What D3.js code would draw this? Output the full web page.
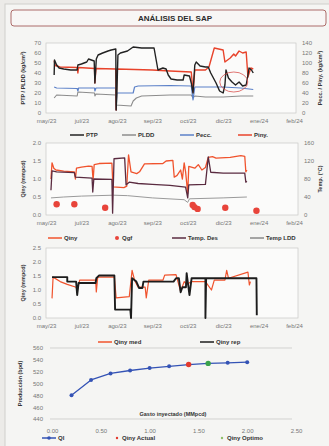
<!DOCTYPE html>
<html>
<head>
<meta charset="utf-8">
<script src="https://cdn.jsdelivr.net/npm/d3@7"></script>
<style>
  body { margin: 0; background: #ecebe8; }
  svg { display: block; font-family: "Liberation Sans", Arial, sans-serif; }
  .tick text { fill: #777; font-size: 6px; }
  .axis-title { fill: #333; font-size: 5.5px; font-weight: bold; }
  .legend text { fill: #333; font-size: 6px; font-weight: bold; }
</style>
</head>
<body>
<svg id="chart" width="329" height="446"></svg>
<script>
// x tick labels shared by the three time panels (index units 0..7)
const dateTicks = ['may/23', 'jul/23', 'ago/23', 'sep/23', 'oct/23', 'dic/23', 'ene/24', 'feb/24'];
const p1LeftTicks = [0, 10, 20, 30, 40, 50, 60, 70];
const p1RightTicks = [0, 20, 40, 60, 80, 100, 120, 140];
const p2LeftTicks = [0, 0.5, 1, 1.5, 2];
const p2RightTicks = [0, 40, 80, 120, 160];
const p3LeftTicks = [0, 0.5, 1, 1.5, 2, 2.5];
const p4YTicks = [440, 460, 480, 500, 520, 540, 560];
const p4XTicks = [0, 0.5, 1, 1.5, 2, 2.5];

// panel 1 : pressures
const ptp = [[0.23,38],[0.24,53],[0.3,48],[0.37,45],[0.5,44],[0.7,43],[0.88,43],[0.9,48],[1.0,49],[1.15,51],[1.2,54],[1.36,52],[1.38,30],[1.42,54],[1.47,58],[1.6,60],[1.75,62],[1.84,63],[1.97,64],[1.98,3],[2.0,20],[2.03,58],[2.1,60],[2.3,62],[2.46,66],[2.7,65],[3.05,65],[3.1,55],[3.16,43],[3.3,45],[3.39,44],[3.45,38],[3.53,34],[3.7,33],[3.87,33],[3.9,38],[4.05,37],[4.1,30],[4.15,20],[4.2,48],[4.24,51],[4.35,47],[4.5,46],[4.58,46],[4.65,40],[4.8,30],[4.9,22],[5.0,20],[5.05,28],[5.08,43],[5.15,35],[5.25,31],[5.35,28],[5.45,31],[5.55,27],[5.65,28],[5.7,38],[5.73,45],[5.8,43],[5.85,40]];
const pldd = [[0.23,15],[0.3,18],[0.88,17],[0.9,21],[1.37,20],[1.38,17],[1.41,19],[1.97,18],[1.98,8],[2.4,7],[2.46,12],[2.55,15],[2.7,17],[3.5,18],[4.1,18],[4.15,15],[4.2,17],[4.5,16],[5.0,16],[5.5,17],[5.85,17]];
const pecc = [[0.23,52],[0.3,50],[0.88,49],[0.9,44],[0.92,50],[1.37,50],[1.38,44],[1.41,50],[1.97,50],[1.98,6],[2.0,40],[2.46,40],[2.5,52],[2.6,54],[3.5,55],[4.1,54],[4.15,26],[4.2,52],[5.0,52],[5.5,50],[5.85,47]];
const piny = [[0.23,105],[0.26,95],[0.4,92],[0.88,91],[0.9,80],[0.92,91],[1.37,89],[1.38,60],[1.41,89],[1.97,88],[1.98,6],[2.0,88],[2.5,87],[3.0,86],[3.5,84],[4.1,82],[4.15,42],[4.2,86],[4.5,86],[4.6,92],[4.75,130],[5.0,126],[5.05,102],[5.2,110],[5.3,118],[5.35,114],[5.45,124],[5.55,120],[5.65,122],[5.7,72],[5.78,90],[5.85,88]];

// panel 2 : injection rate & temperatures
const qiny = [[0.14,1.0],[0.17,1.45],[0.22,1.3],[0.28,1.25],[0.5,1.22],[0.8,1.2],[0.83,1.0],[0.86,1.3],[1.0,1.33],[1.2,1.36],[1.3,1.35],[1.33,0.97],[1.36,1.4],[1.5,1.43],[1.86,1.44],[1.89,0.78],[2.2,0.76],[2.28,0.8],[2.33,1.67],[2.4,1.2],[2.56,1.15],[2.64,1.2],[2.78,1.42],[3.3,1.43],[3.39,1.5],[3.58,1.52],[3.62,1.05],[3.7,1.1],[3.8,1.25],[3.85,1.0],[3.9,1.45],[3.94,1.2],[4.0,0.6],[4.03,1.35],[4.2,1.3],[4.3,1.4],[4.4,1.25],[4.5,1.32],[4.58,1.6],[4.7,1.62],[4.8,1.58],[5.2,1.6],[5.5,1.65],[5.61,1.63],[5.64,1.2],[5.67,1.25]];
const qgf = [[0.3,0.3],[0.8,0.3],[1.67,0.2],[4.14,0.28],[4.19,0.22],[4.28,0.17],[5.06,0.2],[5.94,0.12]];
const tempDes = [[0.14,55],[0.17,98],[0.3,96],[0.8,94],[0.83,84],[1.3,82],[1.32,51],[1.35,80],[1.86,79],[1.88,4],[1.92,125],[2.22,127],[2.26,67],[2.35,73],[2.6,70],[3.0,68],[3.5,66],[3.94,62],[4.0,38],[4.03,67],[4.5,68],[4.58,129],[4.65,95],[5.0,93],[5.61,93],[5.64,73],[5.67,75]];
const tempLdd = [[0.14,38],[0.5,40],[1.0,42],[1.9,44],[2.3,43],[3.0,38],[3.9,34],[4.0,28],[4.05,36],[5.0,38],[5.67,40]];

// panel 3 : measured vs reported injection
const qinyMed = [[0.17,0.7],[0.2,1.46],[0.4,1.3],[0.6,1.2],[0.85,1.1],[0.88,0.95],[0.95,1.35],[1.4,1.35],[1.42,0.93],[1.46,1.46],[1.93,1.46],[1.98,0.72],[2.35,0.76],[2.43,1.7],[2.5,1.35],[2.6,1.1],[2.8,1.1],[2.83,0.72],[2.9,1.35],[3.3,1.35],[3.35,1.53],[3.67,1.55],[3.8,0.95],[3.9,1.3],[3.97,1.2],[4.11,1.3],[4.5,1.3],[4.67,1.0],[4.75,1.35],[5.05,1.35],[5.1,1.7],[5.15,1.42],[5.7,1.64],[5.74,1.18],[5.77,1.3]];
const qinyRep = [[0.17,1.46],[0.6,1.46],[0.6,1.3],[0.85,1.3],[0.88,0.82],[0.92,1.25],[1.4,1.25],[1.42,1.42],[1.5,1.52],[1.93,1.52],[1.95,0.3],[2.38,0.3],[2.4,0.0],[2.43,1.42],[2.55,1.3],[2.63,1.07],[2.72,1.07],[2.75,1.3],[3.6,1.3],[3.67,1.42],[3.75,1.42],[3.8,0.92],[3.85,1.1],[3.95,1.1],[3.97,1.6],[4.0,1.3],[4.05,0.82],[4.11,1.42],[4.5,1.42],[4.5,0.0],[4.52,1.42],[5.94,1.42],[5.95,0.1]];

// panel 4 : gas lift performance curve
const gasIny = [0.2, 0.4, 0.6, 0.8, 1.0, 1.2, 1.4, 1.6, 1.8, 2.0];
const prodQl = [480, 506, 517, 522, 526, 529, 532, 534, 535, 536];
const qinyActual = [[1.4, 532]];
const qinyOptimo = [[1.6, 534]];

const svg = d3.select('#chart');

// page frame + title box
svg.append('rect').attr('x', 5).attr('y', 4).attr('width', 330).attr('height', 450)
  .attr('fill', '#f5f5f3').attr('stroke', '#cfcfcc');
svg.append('rect').attr('x', 11).attr('y', 10).attr('width', 315).attr('height', 16).attr('rx', 3)
  .attr('fill', '#f8f6f5').attr('stroke', '#9a4a48').attr('stroke-width', 0.8);
svg.append('text').attr('x', 175).attr('y', 21).attr('text-anchor', 'middle')
  .attr('font-size', 8).attr('font-weight', 'bold').attr('fill', '#2a2a2a').text('ANÁLISIS DEL SAP');

const xLeft = 46, xRight = 294;

function styleAxis(g) {
  g.select('.domain').remove();
  g.selectAll('.tick line').remove();
}

function timePanel(top, bottom, frameRight) {
  svg.append('rect').attr('x', xLeft).attr('y', top).attr('width', frameRight - xLeft).attr('height', bottom - top)
    .attr('fill', '#fbfbfa').attr('stroke', '#c9c9c6').attr('stroke-width', 0.7);
  const x = d3.scaleLinear().domain([0, 7]).range([xLeft, xRight]);
  svg.append('g').attr('transform', `translate(0,${bottom + 2})`)
    .call(d3.axisBottom(x).tickValues(d3.range(8)).tickFormat(i => dateTicks[i]).tickSize(0).tickPadding(4))
    .call(styleAxis);
  return x;
}

function leftAxis(y, ticks, fmt, title, tx) {
  svg.append('g').attr('transform', `translate(${xLeft - 2},0)`)
    .call(d3.axisLeft(y).tickValues(ticks).tickFormat(fmt).tickSize(0).tickPadding(3))
    .call(styleAxis);
  const [b, t] = y.range();
  svg.append('text').attr('class', 'axis-title').attr('text-anchor', 'middle')
    .attr('transform', `translate(${tx},${(b + t) / 2}) rotate(-90)`).text(title);
}

function rightAxis(y, ticks, x0, title, tx) {
  svg.append('g').attr('transform', `translate(${x0},0)`)
    .call(d3.axisRight(y).tickValues(ticks).tickSize(0).tickPadding(3))
    .call(styleAxis);
  const [b, t] = y.range();
  svg.append('text').attr('class', 'axis-title').attr('text-anchor', 'middle')
    .attr('transform', `translate(${tx},${(b + t) / 2}) rotate(-90)`).text(title);
}

function path(data, x, y, color, w) {
  svg.append('path').datum(data)
    .attr('fill', 'none').attr('stroke', color).attr('stroke-width', w).attr('stroke-linejoin', 'round')
    .attr('d', d3.line().x(d => x(d[0])).y(d => y(d[1])));
}

function legend(items, ly) {
  const g = svg.append('g').attr('class', 'legend');
  items.forEach(it => {
    if (it.type === 'line') {
      g.append('line').attr('x1', it.x).attr('x2', it.x + 14).attr('y1', ly).attr('y2', ly)
        .attr('stroke', it.color).attr('stroke-width', it.w || 1.5);
      if (it.marker) g.append('circle').attr('cx', it.x + 7).attr('cy', ly).attr('r', 1.8).attr('fill', it.color);
      g.append('text').attr('x', it.x + 16).attr('y', ly + 2).text(it.label);
    } else {
      g.append('circle').attr('cx', it.x + 7).attr('cy', ly).attr('r', it.r || 1.8).attr('fill', it.color);
      g.append('text').attr('x', it.x + 12).attr('y', ly + 2).text(it.label);
    }
  });
}

// ---------- panel 1
{
  const top = 43, bottom = 113;
  const x = timePanel(top, bottom, 296);
  const yL = d3.scaleLinear().domain([0, 70]).range([bottom, top]);
  const yR = d3.scaleLinear().domain([0, 140]).range([bottom, top]);
  leftAxis(yL, p1LeftTicks, d3.format('d'), 'PTP / PLDD (kg/cm²)', 25);
  rightAxis(yR, p1RightTicks, 299, 'Pecc. / Piny. (kg/cm²)', 322);
  path(pldd, x, yL, '#8c8c8c', 1.1);
  path(pecc, x, yR, '#5b80c8', 1.2);
  path(piny, x, yR, '#e8432b', 1.4);
  path(ptp, x, yL, '#222222', 1.4);
  svg.append('ellipse').attr('cx', x(5.3)).attr('cy', yL(31)).attr('rx', 14).attr('ry', 10)
    .attr('fill', 'none').attr('stroke', '#d9534f').attr('stroke-width', 0.8);
  legend([
    { type: 'line', x: 70, color: '#222', label: 'PTP' },
    { type: 'line', x: 122, color: '#8c8c8c', label: 'PLDD' },
    { type: 'line', x: 180, color: '#5b80c8', label: 'Pecc.' },
    { type: 'line', x: 238, color: '#e8432b', label: 'Piny.' }
  ], 135);
}

// ---------- panel 2
{
  const top = 143, bottom = 215;
  const x = timePanel(top, bottom, 298);
  const yL = d3.scaleLinear().domain([0, 2]).range([bottom, top]);
  const yR = d3.scaleLinear().domain([0, 160]).range([bottom, top]);
  leftAxis(yL, p2LeftTicks, d3.format('.1f'), 'Qiny (mmpcd)', 25);
  rightAxis(yR, p2RightTicks, 301, 'Temp. (°C)', 322);
  path(tempLdd, x, yR, '#9a9a9a', 1.0);
  path(qiny, x, yL, '#f0532d', 1.3);
  path(tempDes, x, yR, '#5a2b40', 1.3);
  svg.append('g').selectAll('circle').data(qgf).join('circle')
    .attr('cx', d => x(d[0])).attr('cy', d => yL(d[1])).attr('r', 3.2).attr('fill', '#e8443a');
  legend([
    { type: 'line', x: 48, color: '#f0532d', label: 'Qiny' },
    { type: 'dot', x: 110, color: '#e8443a', label: 'Qgf', r: 2 },
    { type: 'line', x: 172, color: '#5a2b40', label: 'Temp. Des' },
    { type: 'line', x: 250, color: '#555', w: 1, label: 'Temp LDD' }
  ], 238);
}

// ---------- panel 3
{
  const top = 248, bottom = 318;
  const x = timePanel(top, bottom, 298);
  const yL = d3.scaleLinear().domain([0, 2.5]).range([bottom, top]);
  leftAxis(yL, p3LeftTicks, d3.format('.1f'), 'Qiny (mmpcd)', 25);
  path(qinyMed, x, yL, '#f0532d', 1.2);
  path(qinyRep, x, yL, '#1d1d1d', 1.9);
  legend([
    { type: 'line', x: 98, color: '#f0532d', label: 'Qiny med' },
    { type: 'line', x: 200, color: '#1d1d1d', label: 'Qiny rep' }
  ], 342);
}

// ---------- panel 4
{
  const top = 348, bottom = 419;
  const x = d3.scaleLinear().domain([0, 2.5]).range([52, 296]);
  const y = d3.scaleLinear().domain([440, 560]).range([bottom, top]);
  svg.append('line').attr('x1', 50).attr('x2', 292).attr('y1', y(560)).attr('y2', y(560)).attr('stroke', '#c4c4c1').attr('stroke-width', 0.7);
  svg.append('line').attr('x1', 50).attr('x2', 292).attr('y1', y(440)).attr('y2', y(440)).attr('stroke', '#c4c4c1').attr('stroke-width', 0.7);
  svg.append('g').attr('transform', 'translate(46,0)')
    .call(d3.axisLeft(y).tickValues(p4YTicks).tickSize(0).tickPadding(3))
    .call(styleAxis);
  svg.append('text').attr('class', 'axis-title').attr('text-anchor', 'middle')
    .attr('transform', `translate(22,${(top + bottom) / 2}) rotate(-90)`).text('Producción (bpd)');
  svg.append('g').attr('transform', `translate(0,${bottom + 6})`)
    .call(d3.axisBottom(x).tickValues(p4XTicks).tickFormat(d3.format('.2f')).tickSize(0).tickPadding(4))
    .call(styleAxis);
  svg.append('text').attr('class', 'axis-title').attr('x', 173).attr('y', 416).attr('text-anchor', 'middle')
    .attr('font-size', 6).text('Gasto inyectado (MMpcd)');
  const pts = gasIny.map((g, i) => [g, prodQl[i]]);
  path(pts, x, y, '#3453b5', 1.3);
  svg.append('g').selectAll('circle').data(pts).join('circle')
    .attr('cx', d => x(d[0])).attr('cy', d => y(d[1])).attr('r', 2).attr('fill', '#3453b5');
  svg.append('g').selectAll('circle').data(qinyActual).join('circle')
    .attr('cx', d => x(d[0])).attr('cy', d => y(d[1])).attr('r', 2.7).attr('fill', '#e23a2e');
  svg.append('g').selectAll('circle').data(qinyOptimo).join('circle')
    .attr('cx', d => x(d[0])).attr('cy', d => y(d[1])).attr('r', 2.7).attr('fill', '#3aa24c');
  legend([
    { type: 'line', x: 42, color: '#3453b5', marker: true, label: 'Ql' },
    { type: 'dot', x: 110, color: '#e23a2e', label: 'Qiny Actual', r: 1.2 },
    { type: 'dot', x: 215, color: '#8fbf6a', label: 'Qiny Optimo', r: 1.2 }
  ], 438);
}
</script>
</body>
</html>
